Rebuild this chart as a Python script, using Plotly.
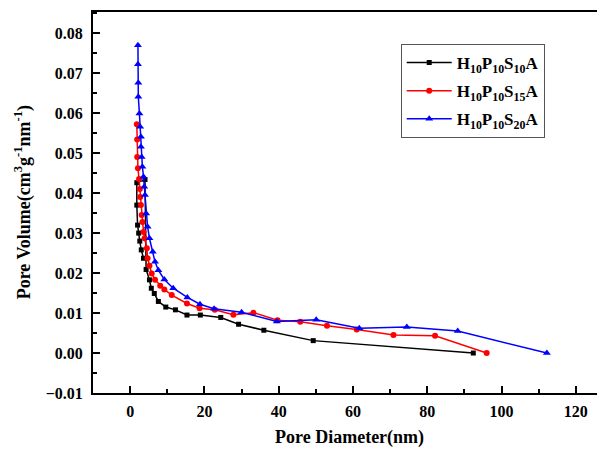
import plotly.graph_objects as go

# ---- data ----
black_x = [3.6, 3.0, 2.6, 2.3, 2.0, 1.8, 1.8, 4.0, 4.3, 5.2, 5.7, 6.5, 7.6, 9.6, 12.2, 15.3, 18.9,
           24.4, 29.2, 36.0, 49.3, 92.4]
black_y = [0.0237, 0.0258, 0.0280, 0.0300, 0.0320, 0.0370, 0.0426, 0.0434, 0.0209, 0.0183, 0.0162,
           0.0149, 0.0129, 0.0115, 0.0108, 0.0095, 0.0095, 0.0089, 0.0072, 0.0057, 0.0031, 0.0000]

red_x = [1.8, 1.9, 1.9, 2.1, 2.4, 2.6, 2.7, 2.9, 3.1, 3.3, 3.6, 3.9, 4.5, 4.7, 5.2, 5.8, 6.7, 8.1,
         9.2, 11.2, 15.3, 18.7, 22.8, 27.8, 33.2, 39.7, 45.8, 53.0, 61.0, 70.9, 82.1, 96.0]
red_y = [0.0572, 0.0534, 0.0490, 0.0462, 0.0435, 0.0410, 0.0390, 0.0370, 0.0345, 0.0328, 0.0303,
         0.0287, 0.0262, 0.0237, 0.0218, 0.0199, 0.0183, 0.0168, 0.0159, 0.0145, 0.0124, 0.0112,
         0.0108, 0.0096, 0.0101, 0.0082, 0.0078, 0.0068, 0.0059, 0.0045, 0.0043, 0.0000]

blue_x = [2.1, 2.1, 2.2, 2.2, 2.5, 2.7, 2.9, 2.9, 3.1, 3.3, 3.6, 3.8, 4.0, 4.3, 4.7, 5.2, 6.1, 6.7,
          7.6, 9.2, 11.6, 15.4, 18.8, 22.6, 30.0, 39.5, 50.1, 61.7, 74.5, 88.2, 112.2]
blue_y = [0.0770, 0.0722, 0.0676, 0.0641, 0.0599, 0.0566, 0.0541, 0.0516, 0.0490, 0.0466, 0.0441,
          0.0416, 0.0395, 0.0349, 0.0316, 0.0287, 0.0253, 0.0228, 0.0207, 0.0184, 0.0162, 0.0139,
          0.0122, 0.0111, 0.0102, 0.0079, 0.0083, 0.0062, 0.0065, 0.0055, 0.0000]

names = ["H<sub>10</sub>P<sub>10</sub>S<sub>10</sub>A",
         "H<sub>10</sub>P<sub>10</sub>S<sub>15</sub>A",
         "H<sub>10</sub>P<sub>10</sub>S<sub>20</sub>A"]

x_title = "Pore Diameter(nm)"
y_title = "Pore Volume(cm<sup>3</sup>g<sup>-1</sup>nm<sup>-1</sup>)"

FONT = "Liberation Serif"

fig = go.Figure()
fig.add_trace(go.Scatter(x=black_x, y=black_y, mode="lines+markers", name=names[0], legendgroup="a",
                         line=dict(color="#000000", width=1.5),
                         marker=dict(symbol="square", size=5, color="#000000")))
fig.add_trace(go.Scatter(x=red_x, y=red_y, mode="lines+markers", name=names[1], legendgroup="b",
                         line=dict(color="#FF0000", width=1.5),
                         marker=dict(symbol="circle", size=6, color="#FF0000")))
fig.add_trace(go.Scatter(x=blue_x, y=blue_y, mode="lines+markers", name=names[2], legendgroup="c",
                         line=dict(color="#0000FF", width=1.5),
                         marker=dict(symbol="triangle-up", size=7, color="#0000FF")))

fig.update_layout(
    width=597, height=444,
    margin=dict(l=85, r=0, t=4, b=59, autoexpand=False),
    plot_bgcolor="white", paper_bgcolor="white",
    font=dict(family=FONT, size=16, color="black"),
    legend=dict(x=0.601, y=0.916, xanchor="left", yanchor="top",
                bordercolor="#555555", borderwidth=1, bgcolor="white",
                font=dict(family=FONT, size=17, color="black", weight="bold"),
                itemwidth=45, tracegroupgap=3),
    xaxis=dict(range=[-10, 127.86], tickvals=[0, 20, 40, 60, 80, 100, 120], automargin=False,
               ticks="inside", ticklen=7, tickwidth=1.5, tickcolor="black", ticklabelstandoff=3,
               minor=dict(dtick=10, tick0=0, ticks="inside", ticklen=4, tickwidth=1.5, tickcolor="black"),
               showline=True, linecolor="black", linewidth=2, mirror=True,
               showgrid=False, zeroline=False,
               tickfont=dict(family=FONT, size=16, weight="bold")),
    yaxis=dict(range=[-0.01, 0.0853], dtick=0.01, tick0=0, tickformat=".2f", automargin=False,
               ticks="inside", ticklen=7, tickwidth=1.5, tickcolor="black", ticklabelstandoff=5,
               minor=dict(dtick=0.005, tick0=0, ticks="inside", ticklen=4, tickwidth=1.5, tickcolor="black"),
               showline=True, linecolor="black", linewidth=2, mirror=False,
               showgrid=False, zeroline=False,
               tickfont=dict(family=FONT, size=16, weight="bold")),
    annotations=[
        dict(text=x_title, xref="paper", yref="paper", x=0.5, y=-0.1155,
             xanchor="center", yanchor="middle", showarrow=False,
             font=dict(family=FONT, size=18, weight="bold")),
        dict(text=y_title, xref="paper", yref="paper", x=-0.137, y=0.5, textangle=-90,
             xanchor="center", yanchor="middle", showarrow=False,
             font=dict(family=FONT, size=18, weight="bold")),
    ],
)

fig.write_html("out.html")
